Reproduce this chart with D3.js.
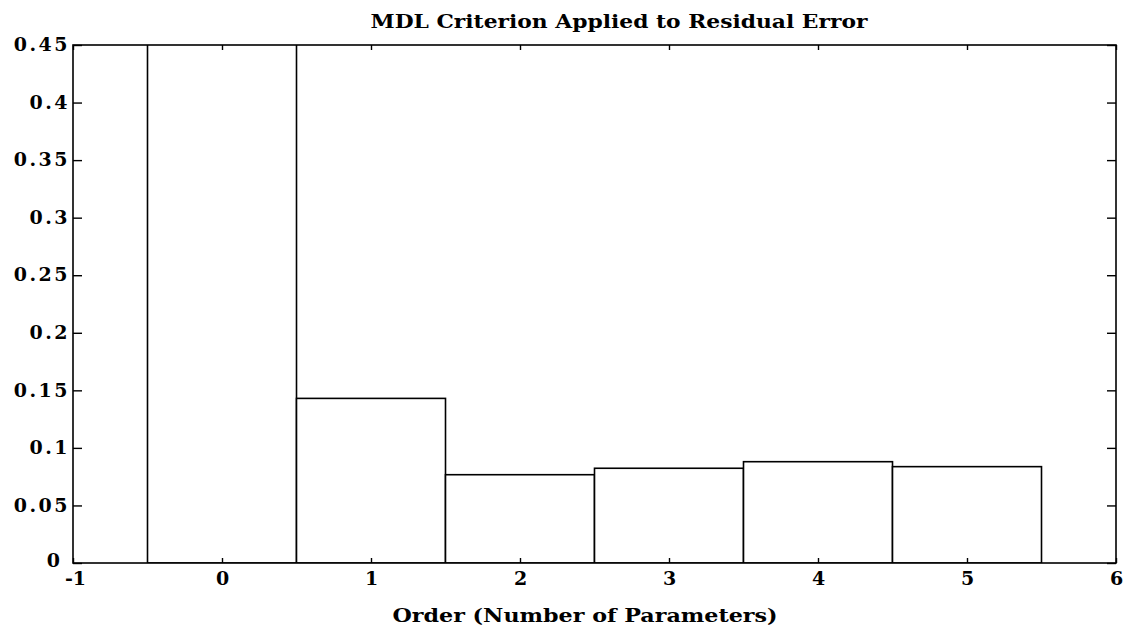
<!DOCTYPE html>
<html><head><meta charset="utf-8">
<script src="https://cdn.jsdelivr.net/npm/d3@7"></script>
<style>
html,body{margin:0;padding:0;background:#fff;}
svg{display:block;}
text{font-family:"DejaVu Serif",serif;font-weight:bold;fill:#000;}
</style></head><body>
<svg id="c" width="1123" height="633"></svg>
<script>
const orders = [0, 1, 2, 3, 4, 5];
const mdlValues = [0.62, 0.143, 0.0767, 0.0823, 0.088, 0.0837];
const xTicks = [-1, 0, 1, 2, 3, 4, 5, 6];
const yTicks = [0, 0.05, 0.1, 0.15, 0.2, 0.25, 0.3, 0.35, 0.4, 0.45];
const titleText = "MDL Criterion Applied to Residual Error";
const xLabelText = "Order (Number of Parameters)";

const svg = d3.select("#c");
const m = {left: 73, right: 1116, top: 45, bottom: 563};
const x = d3.scaleLinear().domain([-1, 6]).range([m.left, m.right]);
const y = d3.scaleLinear().domain([0, 0.45]).range([m.bottom, m.top]);

svg.append("clipPath").attr("id","clip").append("rect")
  .attr("x", m.left).attr("y", m.top).attr("width", m.right-m.left).attr("height", m.bottom-m.top);

svg.append("g").attr("clip-path","url(#clip)")
  .selectAll("rect").data(orders).join("rect")
  .attr("x", d => x(d-0.5))
  .attr("width", d => x(d+0.5)-x(d-0.5))
  .attr("y", (d,i) => y(mdlValues[i]))
  .attr("height", (d,i) => y(0)-y(mdlValues[i]))
  .attr("fill","#fff").attr("stroke","#000").attr("stroke-width",1.6);

// axes
const fmt = d => d === 0 ? "0" : String(d);
const gLeft = svg.append("g").attr("transform",`translate(${m.left},0)`)
  .call(d3.axisLeft(y).tickValues(yTicks).tickFormat(fmt).tickSizeInner(-9).tickSizeOuter(0).tickPadding(3));
const gRight = svg.append("g").attr("transform",`translate(${m.right},0)`)
  .call(d3.axisRight(y).tickValues(yTicks).tickFormat("").tickSizeInner(-9).tickSizeOuter(0));
const gBottom = svg.append("g").attr("transform",`translate(0,${m.bottom})`)
  .call(d3.axisBottom(x).tickValues(xTicks).tickFormat(fmt).tickSizeInner(-5).tickSizeOuter(0).tickPadding(8));
const gTop = svg.append("g").attr("transform",`translate(0,${m.top})`)
  .call(d3.axisTop(x).tickValues(xTicks).tickFormat("").tickSizeInner(-5).tickSizeOuter(0));
[gLeft,gRight,gBottom,gTop].forEach(g => {
  g.select(".domain").remove();
  g.selectAll("line").attr("stroke","#000").attr("stroke-width",1.4);
  g.selectAll("text").attr("font-family","DejaVu Serif").attr("font-weight","bold").attr("font-size",19);
});
gLeft.selectAll("text").attr("dy","0.3em").attr("letter-spacing",2.5);
gLeft.selectAll(".tick").filter(d => d === 0).select("text")
  .attr("letter-spacing",0).attr("x",-13).attr("dy","0.2em");
gBottom.selectAll("text").attr("dy","0.72em");
gBottom.selectAll(".tick").filter(d => d === -1).select("text").attr("dx",2);

svg.append("rect").attr("x",m.left).attr("y",m.top).attr("width",m.right-m.left).attr("height",m.bottom-m.top)
  .attr("fill","none").attr("stroke","#000").attr("stroke-width",1.6);

svg.append("text").attr("x",619).attr("y",28).attr("text-anchor","middle")
  .attr("font-size",19).attr("textLength",497).attr("lengthAdjust","spacingAndGlyphs").text(titleText);
svg.append("text").attr("x",585).attr("y",622).attr("text-anchor","middle")
  .attr("font-size",19).attr("textLength",385).attr("lengthAdjust","spacingAndGlyphs").text(xLabelText);
</script></body></html>
